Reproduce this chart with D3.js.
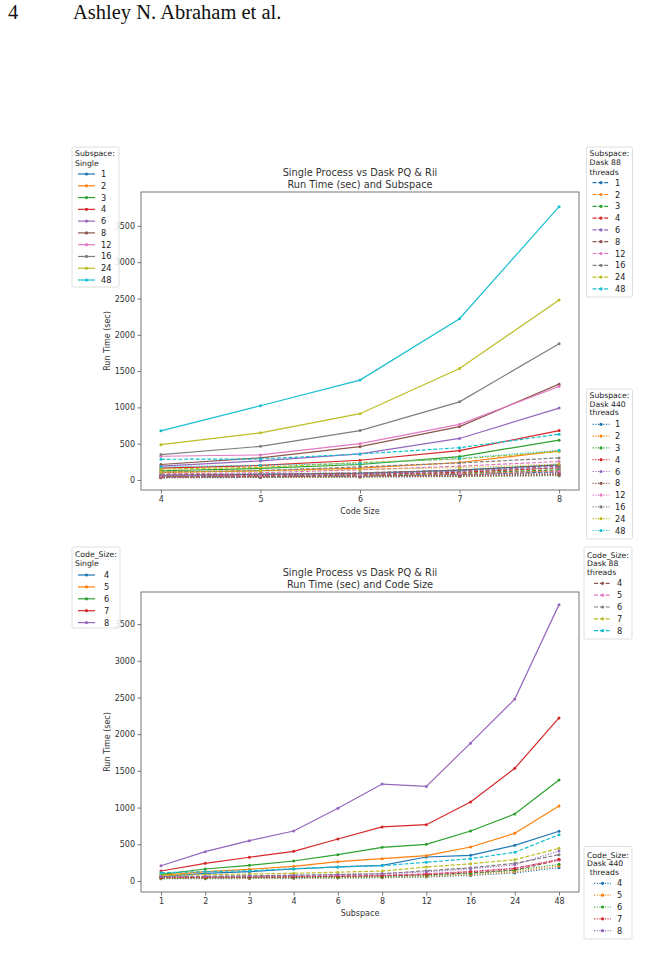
<!DOCTYPE html>
<html>
<head>
<meta charset="utf-8">
<script src="https://cdnjs.cloudflare.com/ajax/libs/d3/7.8.5/d3.min.js"></script>
<style>
body { margin: 0; background: #fff; }
text { font-family: "DejaVu Sans", sans-serif; fill: #333; }
</style>
</head>
<body>
<div id="chart"></div>
<script>
// run time (sec), rows = subspace, columns = code size
var codeSizes = [4, 5, 6, 7, 8];
var subspaces = ["1", "2", "3", "4", "6", "8", "12", "16", "24", "48"];

var singleTimes = [
    [59, 77, 91, 136, 208],
    [104, 127, 163, 241, 400],
    [127, 159, 213, 323, 549],
    [163, 200, 272, 404, 681],
    [191, 263, 359, 572, 990],
    [213, 304, 459, 736, 1320],
    [327, 345, 500, 767, 1288],
    [350, 463, 681, 1076, 1878],
    [486, 650, 913, 1535, 2478],
    [677, 1022, 1376, 2221, 3765]
];

var dask88Times = [
    [40, 45, 55, 75, 113],
    [45, 52, 62, 85, 127],
    [50, 58, 70, 95, 140],
    [55, 63, 78, 105, 168],
    [62, 70, 88, 120, 191],
    [70, 78, 98, 135, 208],
    [85, 100, 140, 190, 255],
    [110, 130, 180, 235, 304],
    [150, 175, 240, 290, 391],
    [285, 289, 358, 445, 630]
];

var dask440Times = [
    [30, 35, 40, 48, 60],
    [32, 37, 42, 50, 65],
    [34, 39, 45, 54, 70],
    [36, 41, 48, 58, 78],
    [40, 45, 52, 64, 88],
    [45, 50, 58, 72, 100],
    [55, 62, 72, 90, 125],
    [75, 85, 100, 125, 165],
    [110, 125, 145, 170, 220],
    [181, 204, 227, 296, 409]
];

var yTicks = [0, 500, 1000, 1500, 2000, 2500, 3000, 3500];
var colors = d3.schemeCategory10;

var DASHED = "4,1.8";
var DOTTED = "1.1,1.6";
var FS = "8px";

var svg = d3.select("#chart").append("svg")
    .attr("width", 662)
    .attr("height", 970);

// page header
svg.append("text").attr("x", 8).attr("y", 19)
    .style("font-family", "'Liberation Serif', serif").style("font-size", "20.5px").style("fill", "#111")
    .text("4");
svg.append("text").attr("x", 73).attr("y", 19)
    .style("font-family", "'Liberation Serif', serif").style("font-size", "20.5px").style("fill", "#111")
    .text("Ashley N. Abraham et al.");

function column(rows, j) {
    return rows.map(function (r) { return r[j]; });
}

function drawPanel(p) {
    var g = svg.append("g");
    var yScale = d3.scaleLinear().domain(p.yDomain).range([p.bottom, p.top]);
    var xScale = p.xScale;

    // frame
    g.append("rect")
        .attr("x", p.left).attr("y", p.top)
        .attr("width", p.right - p.left).attr("height", p.bottom - p.top)
        .attr("fill", "none").attr("stroke", "#555").attr("stroke-width", 0.8);

    var yAxis = d3.axisLeft(yScale).tickValues(yTicks).tickSize(3.5).tickPadding(2.5)
        .tickFormat(d3.format("d"));
    var ya = g.append("g").attr("transform", "translate(" + p.left + ",0)").call(yAxis);
    ya.select(".domain").remove();
    ya.selectAll("line").attr("stroke", "#555").attr("stroke-width", 0.8);
    ya.selectAll("text").style("font-size", FS).style("fill", "#333");

    var xAxis = d3.axisBottom(xScale).tickValues(p.xTicks).tickSize(3.5).tickPadding(2.5)
        .tickFormat(function (d) { return d; });
    var xa = g.append("g").attr("transform", "translate(0," + p.bottom + ")").call(xAxis);
    xa.select(".domain").remove();
    xa.selectAll("line").attr("stroke", "#555").attr("stroke-width", 0.8);
    xa.selectAll("text").style("font-size", FS).style("fill", "#333");

    // titles
    var cx = (p.left + p.right) / 2;
    g.append("text").attr("x", cx).attr("y", p.top - 16).attr("text-anchor", "middle")
        .style("font-size", "9.8px").text("Single Process vs Dask PQ & Rii");
    g.append("text").attr("x", cx).attr("y", p.top - 4).attr("text-anchor", "middle")
        .style("font-size", "9.8px").text(p.title2);
    g.append("text").attr("x", cx).attr("y", p.bottom + 24).attr("text-anchor", "middle")
        .style("font-size", FS).text(p.xLabel);
    g.append("text")
        .attr("transform", "translate(" + 110 + "," + ((p.top + p.bottom) / 2) + ") rotate(-90)")
        .attr("text-anchor", "middle")
        .style("font-size", FS).text("Run Time (sec)");

    var line = d3.line()
        .x(function (d, i) { return xScale(p.xTicks[i]); })
        .y(function (d) { return yScale(d); });

    p.series.forEach(function (s) {
        g.append("path")
            .datum(s.values)
            .attr("d", line)
            .attr("fill", "none")
            .attr("stroke", s.color)
            .attr("stroke-width", 1.2)
            .attr("stroke-dasharray", s.dash);
        g.selectAll(null)
            .data(s.values)
            .enter()
            .append("circle")
            .attr("cx", function (d, i) { return xScale(p.xTicks[i]); })
            .attr("cy", function (d) { return yScale(d); })
            .attr("r", 1.5)
            .attr("fill", s.color);
    });
}

function drawLegend(l) {
    var g = svg.append("g");
    g.append("rect")
        .attr("x", l.x).attr("y", l.y).attr("width", l.w).attr("height", l.h)
        .attr("rx", 1.5)
        .attr("fill", "#fff").attr("fill-opacity", 0.85)
        .attr("stroke", "#d6d6d6").attr("stroke-width", 0.8);
    l.titles.forEach(function (t, i) {
        g.append("text")
            .attr("x", l.x + 3 + (l.titleIndent && i === l.titles.length - 1 ? l.titleIndent : 0))
            .attr("y", l.titleY + i * l.titleStep + 2.8)
            .style("font-size", "7.7px").style("fill", "#222")
            .text(t);
    });
    l.labels.forEach(function (lab, i) {
        var cy = l.entryY + i * l.entryStep;
        g.append("line")
            .attr("x1", l.lineX).attr("x2", l.lineX + 17)
            .attr("y1", cy).attr("y2", cy)
            .attr("stroke", l.colors[i]).attr("stroke-width", 1.2)
            .attr("stroke-dasharray", l.dash);
        g.append("circle")
            .attr("cx", l.lineX + 8.5).attr("cy", cy).attr("r", 1.6)
            .attr("fill", l.colors[i]);
        g.append("text")
            .attr("x", l.labelX).attr("y", cy + 3)
            .style("font-size", "8.2px").style("fill", "#222")
            .text(lab);
    });
}

// ---- top panel: x = code size, one line per subspace ----
var topSeries = [];
subspaces.forEach(function (s, i) {
    topSeries.push({ values: singleTimes[i], color: colors[i], dash: null });
});
subspaces.forEach(function (s, i) {
    topSeries.push({ values: dask88Times[i], color: colors[i], dash: DASHED });
});
subspaces.forEach(function (s, i) {
    topSeries.push({ values: dask440Times[i], color: colors[i], dash: DOTTED });
});

drawPanel({
    left: 141, right: 579, top: 192, bottom: 490,
    xScale: d3.scaleLinear().domain([3.8, 8.2]).range([141, 579]),
    xTicks: codeSizes,
    yDomain: [-138, 3967],
    title2: "Run Time (sec) and Subspace",
    xLabel: "Code Size",
    series: topSeries
});

// ---- bottom panel: x = subspace, one line per code size ----
var botSeries = [];
codeSizes.forEach(function (c, j) {
    botSeries.push({ values: column(singleTimes, j), color: colors[j], dash: null });
});
codeSizes.forEach(function (c, j) {
    botSeries.push({ values: column(dask88Times, j), color: colors[5 + j], dash: DASHED });
});
codeSizes.forEach(function (c, j) {
    botSeries.push({ values: column(dask440Times, j), color: colors[j], dash: DOTTED });
});

drawPanel({
    left: 141, right: 579, top: 592, bottom: 892,
    xScale: d3.scalePoint().domain(subspaces).range([161, 559]),
    xTicks: subspaces,
    yDomain: [-150, 3937],
    title2: "Run Time (sec) and Code Size",
    xLabel: "Subspace",
    series: botSeries
});

// ---- legends ----
drawLegend({
    x: 72, y: 147, w: 47, h: 140, titles: ["Subspace:", "Single"], titleY: 153.3, titleStep: 10,
    entryY: 174, entryStep: 11.78, lineX: 78, labelX: 101,
    labels: subspaces, colors: colors, dash: null
});
drawLegend({
    x: 586.5, y: 147, w: 46, h: 150, titles: ["Subspace:", "Dask 88", "threads"], titleY: 153.3, titleStep: 9.2,
    entryY: 182.7, entryStep: 11.8, lineX: 592.5, labelX: 615,
    labels: subspaces, colors: colors, dash: DASHED
});
drawLegend({
    x: 586.5, y: 389, w: 46, h: 150, titles: ["Subspace:", "Dask 440", "threads"], titleY: 395, titleStep: 8.8,
    entryY: 424.3, entryStep: 11.8, lineX: 592.5, labelX: 615,
    labels: subspaces, colors: colors, dash: DOTTED
});
drawLegend({
    x: 72, y: 547, w: 48, h: 81, titles: ["Code_Size:", "Single"], titleY: 554, titleStep: 9.3,
    entryY: 575, entryStep: 11.9, lineX: 78, labelX: 104,
    labels: codeSizes, colors: colors.slice(0, 5), dash: null
});
drawLegend({
    x: 584, y: 547, w: 48, h: 92, titles: ["Code_Size:", "Dask 88", "threads"], titleY: 554.7, titleStep: 8.8,
    entryY: 583.3, entryStep: 11.85, lineX: 594, labelX: 617,
    labels: codeSizes, colors: colors.slice(5, 10), dash: DASHED
});
drawLegend({
    x: 584, y: 846.5, w: 48, h: 92.5, titles: ["Code_Size:", "Dask 440", "threads"], titleY: 854.7, titleStep: 8.8,
    titleIndent: 2.7,
    entryY: 883.3, entryStep: 11.85, lineX: 594, labelX: 617,
    labels: codeSizes, colors: colors.slice(0, 5), dash: DOTTED
});
</script>
</body>
</html>
